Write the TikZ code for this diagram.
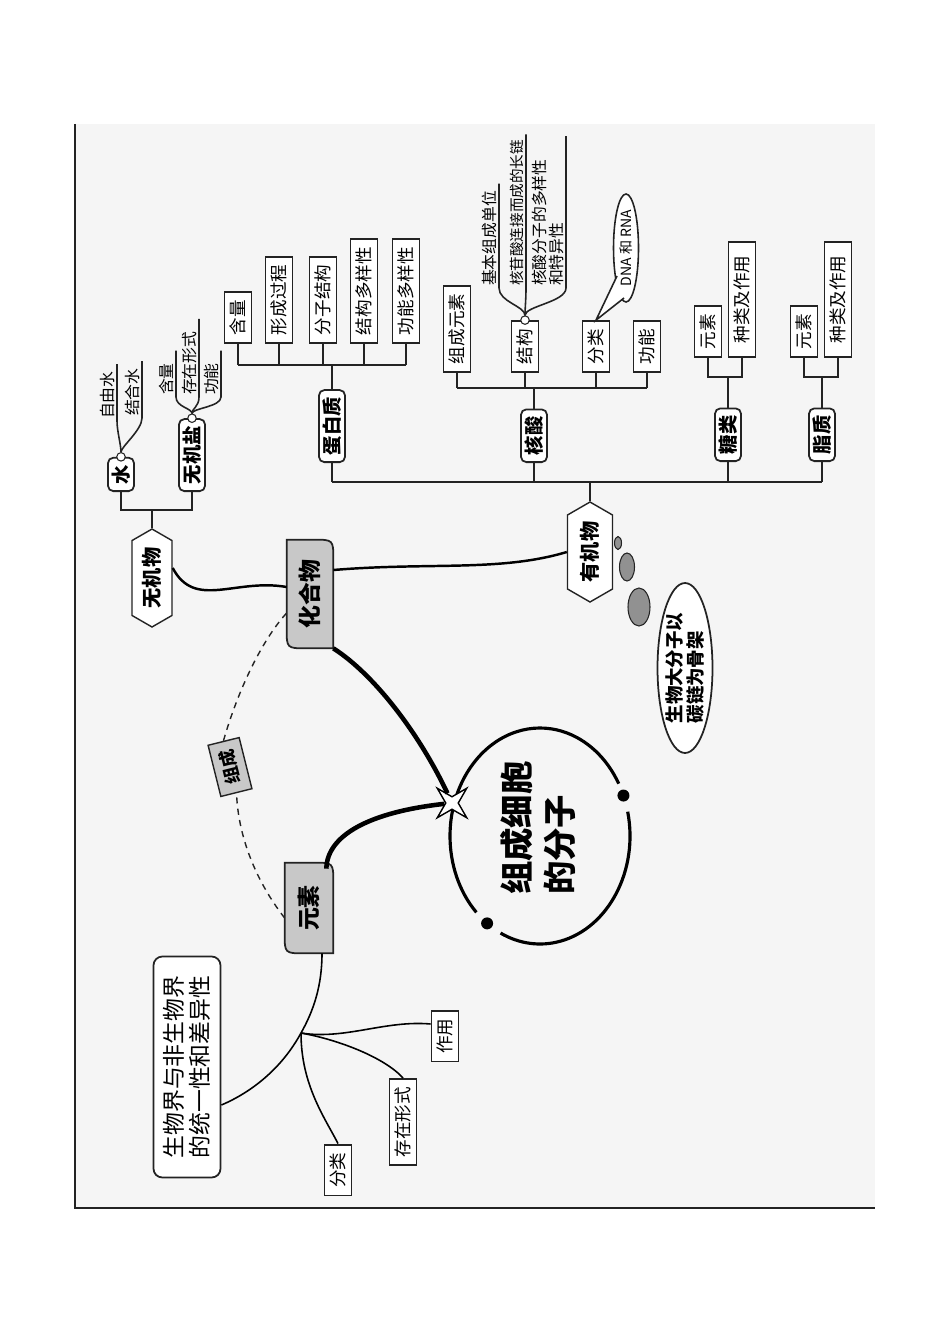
\documentclass[tikz,border=0pt]{standalone}
\usepackage{fontspec}
\setmainfont{Noto Sans CJK SC}
\usepackage{tikz}
\usetikzlibrary{shapes.geometric, shapes.symbols, calc, backgrounds}
\definecolor{mapbg}{RGB}{245,245,245}
\definecolor{mapline}{RGB}{35,35,35}
\definecolor{mapgray}{RGB}{200,200,200}
\definecolor{bubgray}{RGB}{145,145,145}

\begin{document}
\begin{tikzpicture}[
  x=0.02cm, y=-0.02cm,
  leaf/.style={rectangle, draw=mapline, fill=white, line width=1.1pt, rotate=90, font=\fontsize{10}{11}\selectfont, inner xsep=4.5pt, inner ysep=0pt, minimum height=0.54cm},
  topic/.style={rectangle, rounded corners=3pt, draw=mapline, fill=white, line width=1pt, rotate=90, font=\fontsize{11}{12}\selectfont\bfseries, inner xsep=4pt, inner ysep=0pt, minimum height=0.52cm},
  hexa/.style={signal, signal to=east and west, signal pointer angle=120, draw=mapline, fill=white, line width=0.8pt, rotate=90, font=\fontsize{11.5}{12}\selectfont\bfseries, inner sep=1pt},
  cpd/.style={rotate=90, font=\fontsize{13}{14}\selectfont\bfseries, inner sep=0pt},
  gshape/.style={draw=mapline, fill=mapgray, line width=1pt},
  tag/.style={rectangle, draw=mapline, fill=mapgray, line width=0.8pt, rotate=104, font=\fontsize{10}{11}\selectfont\bfseries, inner xsep=5pt, minimum height=0.64cm},
  note/.style={rotate=90, font=\fontsize{9}{10}\selectfont, inner sep=1pt, align=left},
  knot/.style={circle, draw=mapline, fill=white, line width=0.6pt, inner sep=0pt, minimum size=0.17cm},
  hubstar/.style={star, star points=4, star point ratio=0.3, draw=black, fill=white, line width=0.8pt, minimum size=0.25cm, inner sep=0pt},
  tree/.style={draw=mapline, line width=1.1pt},
  under/.style={draw=mapline, line width=0.9pt},
  link/.style={draw=black, line width=1.4pt},
  thinlink/.style={draw=black, line width=0.9pt},
  boldlink/.style={draw=black, line width=2.6pt},
  ring/.style={draw=black, line width=1.8pt}
]
\useasboundingbox (0,0) rectangle (950,1344);

% Center
\coordinate (ringc) at (540,836);
\draw[ring] ($(ringc)+({90*cos(-13)},{108*sin(-13)})$) arc[start angle=-13, end angle=116, x radius=90, y radius=108];
\draw[ring] ($(ringc)+({90*cos(135)},{108*sin(135)})$) arc[start angle=135, end angle=331, x radius=90, y radius=108];
\fill ($(ringc)+({90*cos(-22)},{108*sin(-22)})$) circle[radius=6];
\fill ($(ringc)+({90*cos(126)},{108*sin(126)})$) circle[radius=6];
\node[rotate=90, align=left, font=\fontsize{19}{24}\selectfont\bfseries, inner sep=0pt] (core) at (538,828) {组成细胞\\的分子};
\node[hubstar] (hub) at (452,803) {};

% Compounds and elements
\node[cpd, minimum width=2.16cm, minimum height=0.92cm] (cmp) at (310,594) {化合物};
\node[cpd, minimum width=1.8cm, minimum height=0.96cm] (elem) at (309,908) {元素};
\node[tag] (zc) at (230,767) {组成};

% Inorganic
\node[hexa, minimum width=1.96cm, minimum height=0.8cm] (wuji) at (152,578) {无机物};
\node[topic, anchor=west] (water) at (121,492) {水};
\node[topic, anchor=west] (salt) at (192,492) {无机盐};
\coordinate (wbus) at (152,510);
\draw[tree] (water.west) -- (water.west |- wbus) -- (salt.west |- wbus) -- (salt.west);
\draw[tree] (wbus) -- (wuji.east);

\node[knot] (wk) at (water.east) {};
\node[note, anchor=south west] (w1) at (117,421) {自由水};
\node[note, anchor=south west] (w2) at (142,418) {结合水};
\draw[under] (wk) .. controls +(0,-12) and +(0,10) .. (w1.south west) -- ([yshift=3pt]w1.south east);
\draw[under] (wk) .. controls +(0,-10) and +(0,12) .. (w2.south west) -- ([yshift=3pt]w2.south east);

\node[knot] (sk) at (salt.east) {};
\node[note, anchor=south west] (sa1) at (176,397) {含量};
\node[note, anchor=south west] (sa2) at (199,397) {存在形式};
\node[note, anchor=south west] (sa3) at (221,397) {功能};
\draw[under] (sk) .. controls +(0,-10) and +(0,10) .. (sa1.south west) -- ([yshift=6pt]sa1.south east);
\draw[under] (sk) .. controls +(0,-10) and +(0,10) .. (sa2.south west) -- ([yshift=6pt]sa2.south east);
\draw[under] (sk) .. controls +(0,-10) and +(0,10) .. (sa3.south west) -- ([yshift=6pt]sa3.south east);

% Organic
\node[hexa, minimum width=2cm, minimum height=0.9cm] (youji) at (590,552) {有机物};
\node[topic, anchor=west] (prot) at (332,463) {蛋白质};
\node[topic, anchor=west] (nuc) at (534,463) {核酸};
\node[topic, anchor=west] (sug) at (728,462) {糖类};
\node[topic, anchor=west] (lip) at (822,462) {脂质};
\coordinate (mbus) at (590,482);
\draw[tree] (prot.west |- mbus) -- (lip.west |- mbus);
\draw[tree] (youji.east) -- (mbus);
\foreach \n in {prot, nuc, sug, lip}
  \draw[tree] (\n.west) -- (\n.west |- mbus);

% Protein
\node[leaf, anchor=west] (p1) at (238,344) {含量};
\node[leaf, anchor=west] (p2) at (279,344) {形成过程};
\node[leaf, anchor=west] (p3) at (323,344) {分子结构};
\node[leaf, anchor=west] (p4) at (364,344) {结构多样性};
\node[leaf, anchor=west] (p5) at (406,344) {功能多样性};
\coordinate (pbus) at (332,365);
\draw[tree] (prot.east) -- (pbus);
\draw[tree] (p1.west |- pbus) -- (p5.west |- pbus);
\foreach \n in {p1, p2, p3, p4, p5}
  \draw[tree] (\n.west) -- (\n.west |- pbus);

% Nucleic acid
\node[leaf, anchor=west] (n1) at (457,373) {组成元素};
\node[leaf, anchor=west] (n2) at (525,373) {结构};
\node[leaf, anchor=west] (n3) at (596,373) {分类};
\node[leaf, anchor=west] (n4) at (647,373) {功能};
\coordinate (nbus) at (534,388);
\draw[tree] (nuc.east) -- (nbus);
\draw[tree] (n1.west |- nbus) -- (n4.west |- nbus);
\foreach \n in {n1, n2, n3, n4}
  \draw[tree] (\n.west) -- (\n.west |- nbus);

\node[knot] (tk) at (n2.east) {};
\node[note, anchor=south west] (t1) at (499,288) {基本组成单位};
\node[note, anchor=south west, font=\fontsize{8.3}{9}\selectfont] (t2) at (526,288) {核苷酸连接而成的长链};
\node[note, anchor=south west] (t3) at (566,288) {核酸分子的多样性\\和特异性};
\draw[under] (tk) .. controls +(0,-14) and +(0,14) .. (t1.south west) -- ([yshift=3pt]t1.south east);
\draw[under] (tk) .. controls +(0,-12) and +(0,12) .. (t2.south west) -- ([yshift=2pt]t2.south east);
\draw[under] (tk) .. controls +(0,-14) and +(0,14) .. (t3.south west) -- ([yshift=12pt]t3.south east);

\node[ellipse, draw=mapline, fill=white, line width=0.9pt, rotate=90, minimum width=2.14cm, minimum height=0.5cm, inner sep=0pt, font=\fontsize{8}{9}\selectfont] (dna) at (626,248) {DNA 和 RNA};
\fill[white] ($(dna.center)+(-9,28)$) -- (n3.east) -- ($(dna.center)+(-2,50)$) -- cycle;
\draw[under] ($(dna.center)+(-9,28)$) -- (n3.east) -- ($(dna.center)+(-2,50)$);

% Sugar and lipid
\node[leaf, anchor=west] (g1) at (708,358) {元素};
\node[leaf, anchor=west, minimum width=2.3cm] (g2) at (742,358) {种类及作用};
\coordinate (gbus) at (728,377);
\draw[tree] (sug.east) -- (gbus);
\draw[tree] (g1.west) -- (g1.west |- gbus) -- (g2.west |- gbus) -- (g2.west);
\node[leaf, anchor=west] (l1) at (804,358) {元素};
\node[leaf, anchor=west, minimum width=2.3cm] (l2) at (838,358) {种类及作用};
\coordinate (lbus) at (822,377);
\draw[tree] (lip.east) -- (lbus);
\draw[tree] (l1.west) -- (l1.west |- lbus) -- (l2.west |- lbus) -- (l2.west);

% Thought bubbles
\draw[draw=mapline, fill=bubgray, line width=0.6pt] (618,543) ellipse[x radius=3.5, y radius=6.5];
\draw[draw=mapline, fill=bubgray, line width=0.6pt] (627,567) ellipse[x radius=7.5, y radius=14];
\draw[draw=mapline, fill=bubgray, line width=0.6pt] (639,607) ellipse[x radius=11, y radius=19];
\node[ellipse, draw=mapline, fill=white, line width=1pt, rotate=90, minimum width=3.4cm, minimum height=1.1cm, inner sep=0pt, align=left, font=\fontsize{10.5}{11.5}\selectfont\bfseries] (bub) at (685,668) {生物大分子以\\碳链为骨架};

% Element branches
\node[topic, rounded corners=5pt, minimum width=4.42cm, minimum height=1.34cm, align=left, font=\fontsize{13}{14.5}\selectfont] (bio) at (187,1067) {生物界与非生物界\\的统一性和差异性};
\node[leaf] (use) at (445,1036) {作用};
\node[leaf] (exist) at (403,1122) {存在形式};
\node[leaf] (kind) at (338,1170) {分类};
\coordinate (fork) at (301,1033);
\draw[thinlink] ($(elem.west)+(13,0)$) .. controls (322,985) and (314,1010) .. (fork) .. controls (282,1068) and (252,1092) .. ($(bio.south)+(0,38)$);
\draw[thinlink] (fork) .. controls (345,1040) and (385,1020) .. ($(use.north)+(0,-12)$);
\draw[thinlink] (fork) .. controls (340,1040) and (385,1058) .. (exist.east);
\draw[thinlink] (fork) .. controls (301,1085) and (325,1118) .. (kind.east);

% Links
\draw[link] ($(wuji.south)+(0,-10)$) .. controls (195,610) and (235,578) .. ($(cmp.north)+(0,-7)$);
\draw[link] ($(cmp.south)+(0,-24)$) .. controls (430,562) and (500,572) .. (youji.north);
\draw[boldlink] (cmp.south west) .. controls (375,675) and (420,735) .. (hub);
\draw[boldlink] ($(elem.south east)+(-7,6)$) .. controls (327,835) and (370,812) .. (hub);
\draw[mapline, line width=0.8pt, dash pattern=on 3.5pt off 3pt] ($(elem.north)+(0,10)$) .. controls (255,880) and (238,835) .. (zc.west);
\draw[mapline, line width=0.8pt, dash pattern=on 3.5pt off 3pt] (zc.east) .. controls (238,690) and (262,640) .. ($(cmp.north)+(0,19)$);

\begin{scope}[on background layer]
\fill[mapbg] (75,124) rectangle (875,1207);
\draw[mapline, line width=1.2pt] (75,124) -- (75,1208) -- (875,1208);
\draw[gshape] (cmp.north east) -- ($(cmp.south east)+(-20,0)$) .. controls (cmp.south east) .. ($(cmp.south east)+(0,20)$) -- (cmp.south west) -- ($(cmp.north west)+(20,0)$) .. controls (cmp.north west) .. ($(cmp.north west)+(0,-20)$) -- cycle;
\draw[gshape] (elem.north east) -- ($(elem.south east)+(-20,0)$) .. controls (elem.south east) .. ($(elem.south east)+(0,20)$) -- (elem.south west) -- ($(elem.north west)+(20,0)$) .. controls (elem.north west) .. ($(elem.north west)+(0,-20)$) -- cycle;
\end{scope}
\end{tikzpicture}
\end{document}
